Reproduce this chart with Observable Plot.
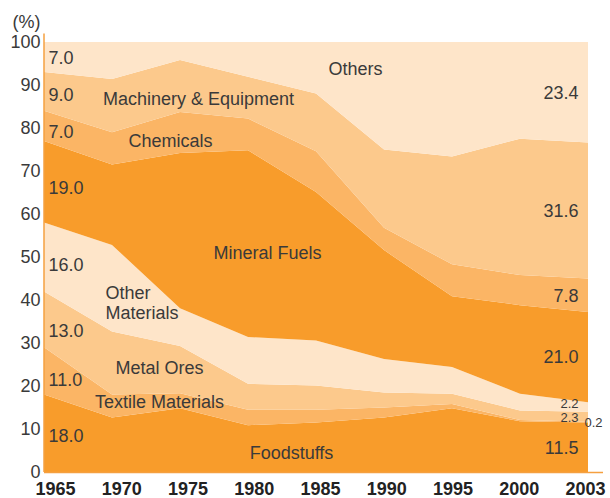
<!DOCTYPE html>
<html><head><meta charset="utf-8">
<script src="https://cdn.jsdelivr.net/npm/d3@7"></script>
<script src="https://cdn.jsdelivr.net/npm/@observablehq/plot@0.6"></script>
<style>
html,body{margin:0;padding:0;background:#fff;}
#chart{width:610px;height:498px;}
</style></head><body><div id="chart"></div>
<script>
const years = ["1965","1970","1975","1980","1985","1990","1995","2000","2003"];
const categories = ["Foodstuffs","Textile Materials","Metal Ores","Other Materials","Mineral Fuels","Chemicals","Machinery & Equipment","Others"];
const foodstuffs     = [18.0, 12.7, 14.8, 10.9, 11.5, 12.7, 14.8, 11.8, 11.5];
const textile        = [11.0,  5.3,  3.5,  3.6,  3.0,  2.3,  1.0,  0.3,  0.2];
const metalOres      = [13.0, 14.7, 11.0,  6.0,  5.6,  3.5,  2.4,  2.2,  2.3];
const otherMaterials = [16.0, 20.1,  8.8, 10.9, 10.5,  7.8,  6.2,  3.9,  2.2];
const mineralFuels   = [19.0, 18.7, 36.1, 43.4, 34.5, 25.3, 16.5, 20.6, 21.0];
const chemicals      = [ 7.0,  7.5,  9.5,  7.4,  9.5,  5.2,  7.4,  7.0,  7.8];
const machinery      = [ 9.0, 12.4, 12.1,  9.7, 13.4, 18.2, 25.1, 31.7, 31.6];
const others         = [ 7.0,  8.6,  4.2,  8.1, 12.0, 25.0, 26.6, 22.5, 23.4];
const yTicks = [0,10,20,30,40,50,60,70,80,90,100];
const colors = ["#F89C2B","#FBB565","#FCC98C","#FEE5C9","#F89C2B","#FBB565","#FCC98C","#FEE5C9"];

const series = [foodstuffs, textile, metalOres, otherMaterials, mineralFuels, chemicals, machinery, others];
const table = [];
categories.forEach((c, ci) => series[ci].forEach((v, yi) => table.push({year: years[yi], category: c, value: v})));

function bands(yi) { let s = 0; return series.map(a => { const lo = s; s += a[yi]; return [lo, s]; }); }
const b0 = bands(0), b1 = bands(1), bL = bands(years.length - 1);
const t = 0.25;
const leftLabels = categories.map((c, i) => {
  const lo = b0[i][0] + (b1[i][0] - b0[i][0]) * t;
  const hi = b0[i][1] + (b1[i][1] - b0[i][1]) * t;
  return {text: series[i][0].toFixed(1), y: (lo + hi) / 2};
});
const rightLabels = categories.map((c, i) => ({cat: c, text: series[i][years.length-1].toFixed(1), y: (bL[i][0] + bL[i][1]) / 2}));
const rightMain = rightLabels.filter(d => !["Textile Materials","Metal Ores","Other Materials"].includes(d.cat));
const rightMetal = rightLabels.filter(d => d.cat === "Metal Ores");
const rightOther = rightLabels.filter(d => d.cat === "Other Materials");
const rightTiny = rightLabels.filter(d => d.cat === "Textile Materials");

const nameLabels = [
  {text: "Others", year: "1985", y: 93.9, dx: 39, anchor: "middle"},
  {text: "Machinery & Equipment", year: "1975", y: 86.9, dx: 18, anchor: "middle"},
  {text: "Chemicals", year: "1975", y: 77.1, dx: -10, anchor: "middle"},
  {text: "Mineral Fuels", year: "1980", y: 51.2, dx: 19, anchor: "middle"},
  {text: "Other\nMaterials", year: "1970", y: 39.5, dx: -7, anchor: "start"},
  {text: "Metal Ores", year: "1975", y: 24.3, dx: -21, anchor: "middle"},
  {text: "Textile Materials", year: "1975", y: 16.4, dx: -21, anchor: "middle"},
  {text: "Foodstuffs", year: "1980", y: 4.7, dx: 43, anchor: "middle"}
];

const txt = "#3a3a3a";
const last = () => years[years.length-1];
const plot = Plot.plot({
  width: 610, height: 498,
  marginLeft: 43, marginRight: 22, marginTop: 42, marginBottom: 26,
  style: {fontFamily: "'Liberation Sans', Arial, sans-serif", background: "#fff", color: txt, overflow: "visible"},
  x: {type: "point", domain: years, padding: 0, label: null},
  y: {domain: [0, 100], label: null},
  color: {domain: categories, range: colors},
  marks: [
    Plot.areaY(table, {x: "year", y: "value", fill: "category", z: "category", order: categories}),
    Plot.axisY({ticks: yTicks, tickSize: 0, tickPadding: 3, fontSize: 18, label: null, dy: 0, fill: txt}),
    Plot.axisX({tickSize: 0, tickPadding: 10, fontSize: 18, fontWeight: "bold", label: null, fill: "#222"}),
    Plot.text(["(%)"], {frameAnchor: "top-left", textAnchor: "start", lineAnchor: "middle", dx: -31, dy: -20, fontSize: 18, fill: txt}),
    Plot.text(leftLabels, {x: () => years[0], y: "y", text: "text", textAnchor: "start", dx: 4, fontSize: 18, fill: txt}),
    Plot.text(rightMain, {x: last, y: "y", text: "text", textAnchor: "end", dx: -10, fontSize: 18, fill: txt}),
    Plot.text(rightOther, {x: last, y: "y", text: "text", textAnchor: "end", dx: -10, dy: -4, fontSize: 13, fill: txt}),
    Plot.text(rightMetal, {x: last, y: "y", text: "text", textAnchor: "end", dx: -10, dy: 1, fontSize: 13, fill: txt}),
    Plot.text(rightTiny, {x: last, y: "y", text: "text", textAnchor: "start", dx: -4, fontSize: 13, fill: txt, letterSpacing: 1.5}),
    ...nameLabels.map(l => Plot.text([l], {x: "year", y: "y", text: "text", dx: l.dx, textAnchor: l.anchor, fontSize: 18, lineHeight: 1.1, fill: txt}))
  ]
});

const xs = plot.scale("x"), ys = plot.scale("y");
const svg = d3.select(plot);
svg.selectAll('g[aria-label="x-axis tick label"] text').attr("dx", (d, i) => 11 - 1.75 * i);
svg.append("line").attr("x1", xs.apply(years[0])).attr("x2", xs.apply(years[0]))
  .attr("y1", ys.apply(102)).attr("y2", ys.apply(0)).attr("stroke", "#F5A040").attr("stroke-width", 1.5);
svg.append("line").attr("x1", xs.apply(years[0])).attr("x2", xs.apply(years[years.length-1]) + 15)
  .attr("y1", ys.apply(0) + 0.5).attr("y2", ys.apply(0) + 0.5).attr("stroke", "#F5A040").attr("stroke-width", 1.5);
document.getElementById("chart").appendChild(plot);
</script>
</body></html>
